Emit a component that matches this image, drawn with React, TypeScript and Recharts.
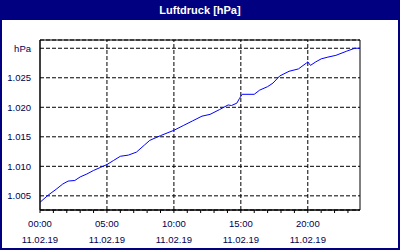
import React from 'react'
import { CartesianGrid, Line, LineChart, ReferenceArea, ReferenceLine, XAxis, YAxis } from 'recharts'

// hours since 00:00 on 11.02.19
const hours = [
    0, 0.6, 1.2, 1.7, 2.1, 2.6, 3.0, 3.5, 4.0, 4.5, 5.0, 5.5, 6.0, 6.6, 7.2, 7.8, 8.2, 9.0, 10.0, 10.7,
    11.4, 12.1, 12.7, 13.4, 14.05, 14.3, 14.7, 14.9, 15.1, 16.0, 16.4, 17.0, 17.4, 17.9, 18.6, 19.3,
    19.9, 20.0, 20.2, 20.6, 21.0, 21.5, 22.1, 22.9, 23.5, 23.9,
]
const pressure = [
    1003.9, 1005.1, 1006.1, 1007.0, 1007.5, 1007.6, 1008.2, 1008.7, 1009.3, 1009.8, 1010.3, 1011.0,
    1011.7, 1011.9, 1012.4, 1013.6, 1014.4, 1015.2, 1016.1, 1016.9, 1017.7, 1018.5, 1018.8, 1019.6,
    1020.4, 1020.3, 1020.7, 1021.5, 1022.2, 1022.2, 1022.9, 1023.5, 1024.1, 1025.3, 1026.1, 1026.5,
    1027.5, 1027.7, 1027.1, 1027.7, 1028.2, 1028.5, 1028.8, 1029.5, 1030.0, 1030.0,
]

const hourTicks = [0, 1, 2, 3, 4, 5, 6, 7, 8, 9, 10, 11, 12, 13, 14, 15, 16, 17, 18, 19, 20, 21, 22, 23]
const majorHours = [0, 5, 10, 15, 20]
const yTicks = [1005, 1010, 1015, 1020, 1025, 1030]
const dateLabel = '11.02.19'
const unitLabel = 'hPa'
const title = 'Luftdruck [hPa]'

const xMax = 23.9
const yMin = 1002.6
const yMax = 1031.4

const font = '"Liberation Sans", Arial, sans-serif'
const labelColor = '#000050'

const fmtY = (v: number) =>
    v === yTicks[yTicks.length - 1] ? unitLabel : `${Math.floor(v / 1000)}.${String(v % 1000).padStart(3, '0')}`

const TimeTick = (props: any) => {
    const { x, y, payload } = props
    if (!majorHours.includes(payload.value)) return null
    const hh = String(payload.value).padStart(2, '0') + ':00'
    return (
        <g>
            <text x={x} y={y + 13.5} textAnchor="middle" fontSize={9.5} fill={labelColor} fontFamily={font}>{hh}</text>
            <text x={x} y={y + 29.5} textAnchor="middle" fontSize={9.5} fill={labelColor} fontFamily={font}>{dateLabel}</text>
        </g>
    )
}

const App: React.FC = () => {
    const data = hours.map((h, i) => ({ t: h, p: pressure[i] }))

    return (
        <div style={{ position: 'absolute', left: 0, top: 0, width: 400, height: 250, background: '#fff', fontFamily: font }}>
            <LineChart width={400} height={250} data={data}
                style={{ position: 'absolute', left: 0, top: 0 }}
                margin={{ top: 40, right: 40, left: 0, bottom: 0 }}>
                <CartesianGrid vertical={false} stroke="#000" strokeDasharray="4 2" />
                {majorHours.slice(1).map(h => (
                    <ReferenceLine key={h} x={h} stroke="#000" strokeDasharray="4 2" />
                ))}
                <XAxis dataKey="t" type="number" domain={[0, xMax]} allowDataOverflow ticks={hourTicks}
                    interval={0} tickSize={3} tickMargin={0} stroke="#000" tick={<TimeTick />} height={40} />
                <YAxis type="number" domain={[yMin, yMax]} allowDataOverflow ticks={yTicks} width={40}
                    tickLine={false} tickFormatter={fmtY} stroke="#000"
                    tick={{ fontSize: 9.5, fill: labelColor, fontFamily: font }} tickMargin={3} />
                <ReferenceArea x1={0} x2={xMax} y1={yMin} y2={yMax} fill="none" stroke="#000" strokeWidth={1} />
                <Line type="linear" dataKey="p" stroke="#0000ff" strokeWidth={1} dot={false} isAnimationActive={false} />
            </LineChart>
            <div style={{ position: 'absolute', left: 0, top: 0, width: 400, height: 20, background: '#000080', color: '#fff',
                fontWeight: 'bold', fontSize: 11, lineHeight: '20px', textAlign: 'center' }}>{title}</div>
            <div style={{ position: 'absolute', left: 0, top: 0, width: 400, height: 250, boxSizing: 'border-box',
                border: '2px solid #000080', pointerEvents: 'none' }} />
        </div>
    )
}

export default App
